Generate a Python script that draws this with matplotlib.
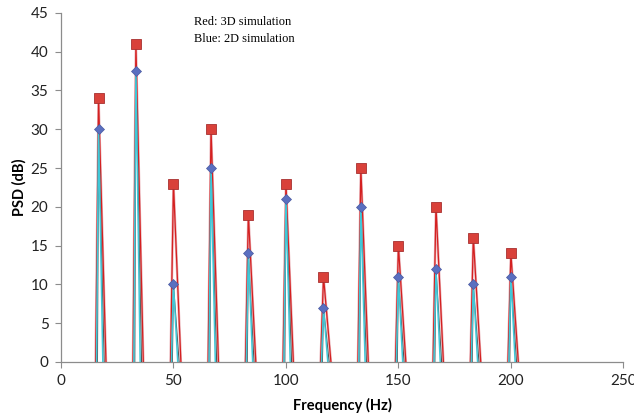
import numpy as np
import matplotlib.pyplot as plt

# peak frequencies (Hz) and PSD peak values (dB)
freqs = [16.7, 33.3, 50.0, 66.7, 83.3, 100.0, 116.7, 133.3, 150.0, 166.7, 183.3, 200.0]
psd_3d = [34, 41, 23, 30, 19, 23, 11, 25, 15, 20, 16, 14]
psd_2d = [30, 37.5, 10, 25, 14, 21, 7, 20, 11, 12, 10, 11]


def spikes(f, p, left, right):
    # narrow triangular peak for each harmonic, back to 0 either side
    xs, ys = [], []
    for fi, pi in zip(f, p):
        xs += [fi - left, fi, fi + right, np.nan]
        ys += [0, pi, 0, np.nan]
    return np.array(xs), np.array(ys)


fig = plt.figure(figsize=(6.34, 4.17), dpi=100)
ax = fig.add_axes([0.0962, 0.132, 0.887, 0.837])

x, y = spikes(freqs, psd_3d, 1.3, 3.3)
ax.plot(x, y, color='#eab0b6', lw=1.8, zorder=2)
ax.plot(x, y, color='#d42020', lw=0.9, zorder=3)

x, y = spikes(freqs, psd_2d, 0.5, 2.5)
ax.plot(x, y, color='#555555', lw=0.8, zorder=3)
x, y = spikes(freqs, psd_2d, 0.9, 1.9)
ax.plot(x, y, color='#40c8d8', lw=1.1, zorder=4)

ax.plot(freqs, psd_3d, ls='none', marker='s', ms=6.5, mfc='#d9413a',
        mec='#a83030', mew=0.6, zorder=5)
ax.plot(freqs, psd_2d, ls='none', marker='D', ms=5, mfc='#5a6fc0',
        mec='#4a5aa0', mew=0.5, zorder=6)

ax.set_xlim(0, 250)
ax.set_ylim(0, 45)
ax.set_xticks(np.arange(0, 251, 50))
ax.set_yticks(np.arange(0, 46, 5))
for s in ['top', 'right']:
    ax.spines[s].set_visible(False)
for s in ['left', 'bottom']:
    ax.spines[s].set_color('#8c8c8c')
    ax.spines[s].set_linewidth(0.9)
ax.tick_params(axis='both', direction='out', length=4, color='#8c8c8c',
               labelsize=11, labelcolor='#222222', pad=5)
for lab in ax.get_xticklabels() + ax.get_yticklabels():
    lab.set_family('Lato')

ax.set_xlabel('Frequency (Hz)', fontsize=10.5, fontweight='bold', family='Lato', labelpad=7)
ax.set_ylabel('PSD (dB)', fontsize=10.5, fontweight='bold', family='Lato', labelpad=3)

ax.text(0.237, 0.99, 'Red: 3D simulation\nBlue: 2D simulation',
        transform=ax.transAxes, ha='left', va='top', fontsize=8.9,
        family='Liberation Serif', linespacing=1.5)

fig.savefig('out.png', dpi=100)
